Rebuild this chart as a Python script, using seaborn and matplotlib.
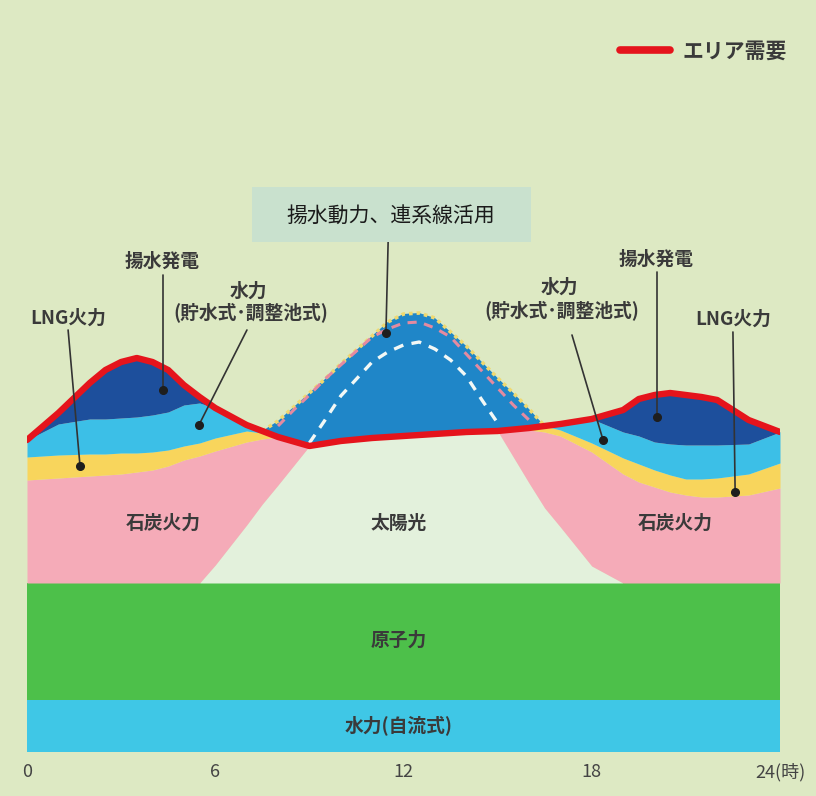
import numpy as np
import matplotlib
matplotlib.use("Agg")
import matplotlib.pyplot as plt
import seaborn as sns

# values (arbitrary units, stacked bottom -> top)
hours = [0, 1, 2, 2.5, 3, 3.5, 4, 4.5, 5, 5.5, 6, 7, 7.5, 8, 9, 10, 11, 12, 13, 14, 15, 16,
         16.5, 17, 18, 19, 19.5, 20, 20.5, 21, 21.5, 22, 23, 24]
run_of_river = [52] * 34
nuclear = [117] * 34
solar = [0, 0, 0, 0, 0, 0, 0, 0, 0, 0, 18, 58, 79, 98, 137, 142, 145, 147, 149, 151, 152, 100,
         75, 56, 17, 0, 0, 0, 0, 0, 0, 0, 0, 0]
coal = [103, 105, 107, 108, 109, 111, 113, 117, 123, 127, 114, 83, 65, 48, 0, 0, 0, 0, 0, 0, 0, 53,
        76, 91, 114, 109, 101, 96, 91, 88, 86, 86, 88, 95]
lng = [23, 23, 22, 21, 21, 19, 18, 16, 14, 13, 13, 11, 6, 0, 0, 0, 0, 0, 0, 0, 0, 2,
       6, 6, 9, 16, 18, 17, 17, 16, 18, 19, 21, 25]
hydro_storage = [17, 31, 35, 35, 35, 36, 37, 38, 41, 40, 30, 6, 2, 0, 0, 0, 0, 0, 0, 0, 0, 0,
                 0, 6, 24, 26, 28, 28, 31, 34, 34, 33, 30, 31]
pumped_gen = [0, 11, 36, 49, 56, 59, 53, 42, 20, 6, 0, 0, 0, 0, 0, 0, 0, 0, 0, 0, 0, 0,
              0, 0, 0, 22, 37, 47, 51, 50, 48, 45, 24, 0]
demand = [312, 339, 369, 382, 390, 394, 390, 382, 367, 355, 344, 327, 321, 315, 306, 311, 314, 316,
          318, 320, 321, 324, 326, 328, 333, 342, 353, 357, 359, 357, 355, 352, 332, 320]

# surplus absorbed by pumping / interconnection: upper edge above demand
hump_hours = [7.5, 8, 8.5, 9, 9.5, 10, 10.5, 11, 11.5, 12, 12.5, 13, 13.5, 14, 14.5, 15, 15.5, 16, 16.5]
hump_top = [321, 331, 345, 359, 373, 388, 402, 416, 430, 438, 439, 434, 420, 406, 390, 374, 359, 343, 326]
pink_hours = [8, 8.5, 9, 9.5, 10, 10.5, 11, 11.5, 12, 12.5, 13, 13.5, 14, 14.5, 15, 15.5, 16]
pink_dash = [326, 342, 357, 373, 387, 401, 415, 423, 429, 430, 424, 415, 398, 381, 364, 347, 332]
white_hours = [9, 9.5, 10, 10.5, 11, 11.5, 12, 12.5, 13, 13.5, 14, 14.5, 15]
white_dash = [309, 332, 356, 373, 390, 400, 407, 410, 403, 392, 376, 352, 329]

tick_hours = [0, 6, 12, 18, 24]
tick_labels = ["0", "6", "12", "18", "24(時)"]

bg = "#dde9c3"
layer_colors = ["#3fc7e6", "#4dc04a", "#e3f1dc", "#f5abb8", "#f8d55c", "#3cbfe7", "#1d4f9c"]

sns.set_theme(style="white")
plt.rcParams["font.family"] = ["Noto Sans CJK JP", "DejaVu Sans"]

fig = plt.figure(figsize=(8.16, 7.96), dpi=100, facecolor=bg)
ax = fig.add_axes([27 / 816, 44 / 796, 753 / 816, 752 / 796])
ax.set_facecolor(bg)

ax.stackplot(hours, run_of_river, nuclear, solar, coal, lng, hydro_storage, pumped_gen,
             colors=layer_colors, linewidth=0)

# hump polygon: upper edge, then back along the demand curve
h = np.array(hours)
d = np.array(demand)
sel = (h >= hump_hours[0]) & (h <= hump_hours[-1])
poly_x = list(hump_hours) + list(h[sel][::-1])
poly_y = list(hump_top) + list(d[sel][::-1])
ax.fill(poly_x, poly_y, color="#1f86c8", linewidth=0, zorder=3)
ax.plot(hump_hours, hump_top, color="#f0d970", lw=2.6, ls=(0, (1, 1.1)), zorder=3)

sns.lineplot(x=pink_hours, y=pink_dash, ax=ax, color="#e48aa0", lw=2.2, ls=(0, (3, 2.5)), zorder=4)
sns.lineplot(x=white_hours, y=white_dash, ax=ax, color="#f2f8f6", lw=2.4, ls=(0, (3, 2.5)), zorder=4)
sns.lineplot(x=hours, y=demand, ax=ax, color="#e5141c", lw=4.6, zorder=5, label="エリア需要")

txt = "#3a3a3a"
lab = dict(ha="center", va="center", fontsize=13.5, fontweight="bold", color=txt, zorder=7)
ax.text(4.30, 491, "揚水発電", **lab)
ax.text(7.04, 461, "水力", **lab)
ax.text(7.14, 440, "(貯水式･調整池式)", **lab)
ax.text(1.31, 434, "LNG火力", **lab)
ax.text(20.05, 493, "揚水発電", **lab)
ax.text(16.96, 465, "水力", **lab)
ax.text(17.05, 442, "(貯水式･調整池式)", **lab)
ax.text(22.5, 433, "LNG火力", **lab)
ax.text(4.35, 229, "石炭火力", **lab)
ax.text(20.65, 229, "石炭火力", **lab)
ax.text(11.86, 229, "太陽光", **lab)
ax.text(11.86, 112, "原子力", **lab)
ax.text(11.86, 27, "水力(自流式)", **lab)

# leader lines: (label end) -> (dot)
leaders = [((1.31, 422), (1.69, 286)), ((4.33, 477), (4.33, 362)), ((7.01, 422), (5.48, 327)),
           ((11.51, 510), (11.44, 419)), ((17.37, 417), (18.36, 312)), ((20.08, 480), (20.08, 335)),
           ((22.50, 420), (22.57, 260))]
for (x0, y0), (x1, y1) in leaders:
    ax.plot([x0, x1], [y0, y1], color="#333333", lw=1.2, zorder=6)
    ax.plot(x1, y1, "o", color="#1e1e1e", ms=5.5, zorder=6)

# callout box
ax.add_patch(plt.Rectangle((7.17, 510), 8.89, 55, facecolor="#c9e1ce", edgecolor="none", zorder=6))
ax.text(11.6, 536, "揚水動力、連系線活用", ha="center", va="center", fontsize=15, color="#1a1a1a", zorder=7)

ax.set_xlim(0, 24)
ax.set_ylim(0, 752)
ax.set_xticks(tick_hours, tick_labels)
ax.set_yticks([])
ax.tick_params(axis="x", length=0, pad=8, labelsize=13, labelcolor="#444444")
for s in ax.spines.values():
    s.set_visible(False)
ax.set_xlabel("")
ax.set_ylabel("")

ax.legend(loc="upper right", bbox_to_anchor=(806 / 816, 1 - 22 / 796), bbox_transform=fig.transFigure,
          frameon=False, handlelength=2.4, handletextpad=0.6,
          prop={"size": 15, "weight": "bold", "family": ["Noto Sans CJK JP", "DejaVu Sans"]})
for t in ax.get_legend().get_texts():
    t.set_color(txt)
ax.get_legend().get_lines()[0].set_linewidth(5.5)

fig.savefig("out.png", dpi=100, facecolor=bg)
